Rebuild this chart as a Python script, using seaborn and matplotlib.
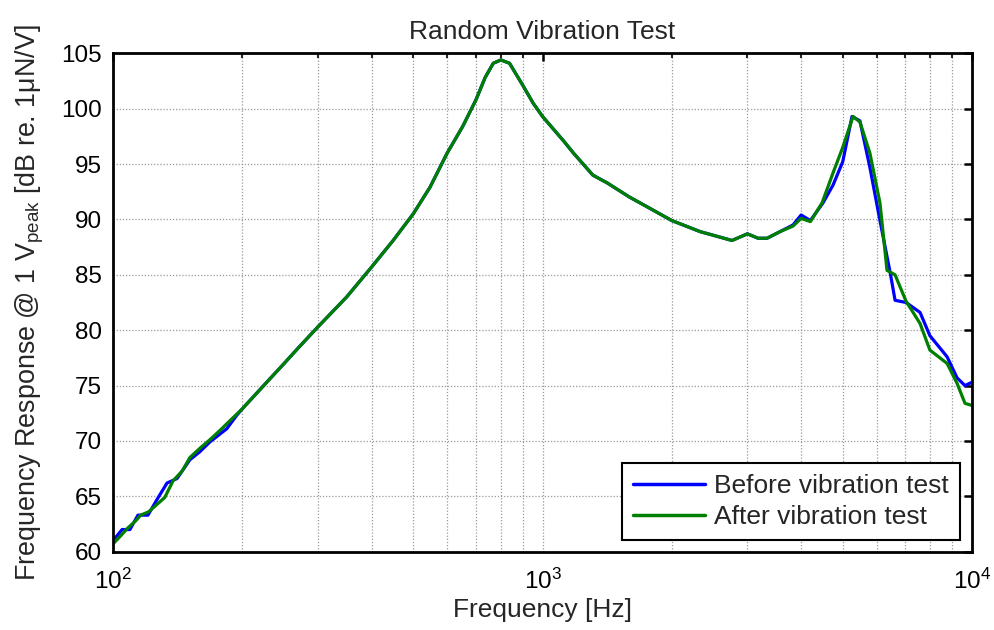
import numpy as np
import pandas as pd
import matplotlib
matplotlib.use("Agg")
import matplotlib.pyplot as plt
import seaborn as sns
from matplotlib.ticker import LogLocator, NullFormatter, FixedLocator

# ---- data ----
freq_after = [100, 104, 108, 113, 116, 121, 126, 132, 138, 145, 151, 160, 168, 178, 188, 200,
              228, 249, 270, 300, 350, 400, 449, 500, 547, 600, 652, 700, 735, 768, 800, 838, 900, 951,
              1000, 1119, 1180, 1310, 1414, 1597, 1686, 2000, 2328, 2762, 3000, 3177, 3334, 3573,
              3831, 4000, 4204, 4477, 4747, 5000, 5285, 5483, 5784, 6105, 6340, 6620, 7025, 7570,
              7980, 8750, 9230, 9630, 10000]
db_after = [60.7, 61.4, 62.1, 62.8, 63.3, 63.6, 64.2, 64.9, 66.4, 67.3, 68.5, 69.4, 70.1, 71.0, 71.9, 72.9,
            75.3, 76.9, 78.4, 80.3, 83.0, 85.7, 88.1, 90.5, 92.9, 96.0, 98.4, 100.8, 102.8, 104.1, 104.4, 104.1, 102.1, 100.5,
            99.3, 97.1, 96.0, 94.0, 93.3, 92.0, 91.5, 89.9, 88.9, 88.1, 88.7, 88.3, 88.3, 88.9,
            89.4, 90.1, 89.8, 91.5, 94.2, 96.5, 99.3, 98.8, 96.0, 91.5, 85.4, 85.0, 82.6, 80.6,
            78.2, 77.0, 75.2, 73.4, 73.2]

freq_before = [100, 105, 109.5, 114.3, 120.6, 127, 133.6, 140.9, 151, 159, 168, 184, 194, 200,
               228, 249, 270, 300, 350, 400, 449, 500, 547, 600, 652, 700, 735, 768, 800, 838, 900, 951,
               1000, 1119, 1180, 1310, 1414, 1597, 1686, 2000, 2328, 2762, 3000, 3177, 3334, 3573,
               3831, 4000, 4204, 4500, 4747, 5000, 5256, 5483, 5784, 6105, 6456, 6620, 7025, 7570,
               7980, 8750, 9230, 9630, 10000]
db_before = [61.0, 62.0, 62.0, 63.3, 63.3, 64.8, 66.2, 66.6, 68.3, 69.0, 69.9, 71.1, 72.3, 72.9,
             75.3, 76.9, 78.4, 80.3, 83.0, 85.7, 88.1, 90.5, 92.9, 96.0, 98.4, 100.8, 102.8, 104.1, 104.4, 104.1, 102.1, 100.5,
             99.3, 97.1, 96.0, 94.0, 93.3, 92.0, 91.5, 89.9, 88.9, 88.1, 88.7, 88.3, 88.3, 88.9,
             89.5, 90.4, 89.9, 91.5, 93.1, 95.2, 99.3, 98.9, 94.7, 89.9, 85.1, 82.7, 82.5, 81.6,
             79.5, 77.6, 75.7, 75.0, 75.3]

labels = ["Before vibration test", "After vibration test"]
colors = ["#0000ff", "#008000"]
yticks = [60, 65, 70, 75, 80, 85, 90, 95, 100, 105]

# ---- style ----
sns.set_theme(style="white")
plt.rcParams["font.family"] = ["Liberation Sans", "DejaVu Sans"]
plt.rcParams["mathtext.fontset"] = "custom"
plt.rcParams["mathtext.rm"] = "Liberation Sans"
plt.rcParams["mathtext.it"] = "Liberation Sans:italic"
plt.rcParams["mathtext.bf"] = "Liberation Sans:bold"

df = pd.concat([
    pd.DataFrame({"Frequency": freq_before, "Response": db_before, "Series": labels[0]}),
    pd.DataFrame({"Frequency": freq_after, "Response": db_after, "Series": labels[1]}),
], ignore_index=True)

fig = plt.figure(figsize=(9.95, 6.3), dpi=100)
ax = fig.add_axes([113 / 995, 1 - 551.7 / 630, (972 - 113) / 995, (551.7 - 53.3) / 630])

sns.lineplot(data=df, x="Frequency", y="Response", hue="Series", palette=colors,
             hue_order=labels, linewidth=2.3, ax=ax, sort=False, estimator=None)

ax.set_xscale("log")
ax.set_xlim(100, 10000)
ax.set_ylim(60, 105)
ax.yaxis.set_major_locator(FixedLocator(yticks))
ax.xaxis.set_major_locator(LogLocator(base=10, numticks=10))
ax.xaxis.set_minor_locator(LogLocator(base=10, subs=np.arange(2, 10), numticks=20))
ax.xaxis.set_minor_formatter(NullFormatter())

ax.grid(True, which="major", axis="both", color="#9a9a9a", linestyle=(0, (1, 1.5)), linewidth=0.9)
ax.grid(True, which="minor", axis="x", color="#9a9a9a", linestyle=(0, (1, 1.5)), linewidth=0.9)

for s in ax.spines.values():
    s.set_visible(True)
    s.set_color("black")
    s.set_linewidth(2)

ax.tick_params(which="major", direction="in", length=6, width=1.8, top=True, right=True,
               labelsize=17.5, colors="black", pad=8)
ax.tick_params(which="minor", direction="in", length=3.5, width=1.5, top=True, right=True)
ax.tick_params(axis="x", which="major", pad=12)

ax.set_title("Random Vibration Test", fontsize=19, pad=10)
ax.set_xlabel("Frequency [Hz]", fontsize=19, labelpad=3)
ax.set_ylabel(r"Frequency Response @ 1 V$_{\mathrm{peak}}$ [dB re. 1μN/V]", fontsize=19.4, labelpad=11)

leg = ax.legend(loc="lower right", fontsize=19, frameon=True, fancybox=False,
                handlelength=2.75, handletextpad=0.34, borderaxespad=0.45,
                labelspacing=0.26, borderpad=0.42)
leg.get_frame().set_edgecolor("black")
leg.get_frame().set_linewidth(1.5)
leg.get_frame().set_alpha(1)
for line in leg.get_lines():
    line.set_linewidth(2.5)

fig.savefig("out.png", dpi=100)
